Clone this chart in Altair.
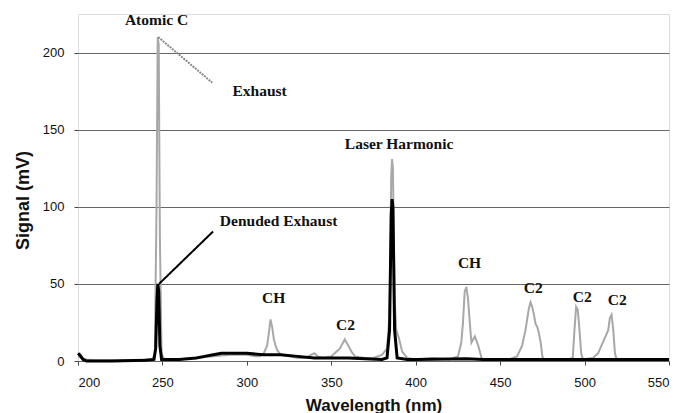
import altair as alt
import pandas as pd

# Exhaust spectrum (gray)
ex_wl = [200, 202, 205, 210, 220, 230, 240, 244, 245.5, 246.5, 247.2, 247.8, 248.5, 249.5, 251, 260, 270, 280, 290,
         300, 305, 308, 310, 312, 313, 314, 315, 316, 317, 318, 320, 325, 330, 335, 338, 340, 342, 345, 350, 352,
         355, 357, 358, 359, 360, 362, 364, 370, 375, 380, 383, 384.5, 385.5, 386, 386.5, 387.5, 388.5, 390, 392,
         395, 400, 410, 420, 425, 427, 428, 429, 430, 431, 432, 433, 434, 435, 436, 437, 438, 439, 440, 450, 455,
         460, 463, 465, 467, 468, 469, 470, 471, 472, 473, 474, 475, 476, 485, 490, 493, 494, 495, 496, 497, 498,
         499, 505, 508, 510, 512, 514, 515, 516, 517, 518, 519, 530, 550]
ex_sig = [3, 2, 1, 0.5, 0.5, 0.5, 1, 1, 5, 100, 210, 205, 80, 5, 1, 1, 2, 3, 4,
          4, 3, 3, 5, 10, 18, 27, 22, 14, 10, 7, 4, 3, 2, 2, 4, 5, 3, 2, 3, 5,
          8, 12, 14, 12, 10, 6, 3, 2, 2, 4, 8, 30, 120, 131, 125, 40, 20, 15, 6,
          2, 1, 2, 1, 3, 12, 25, 45, 48, 40, 25, 12, 14, 16, 13, 10, 6, 2, 1, 1, 1,
          3, 10, 20, 34, 38, 35, 30, 24, 22, 18, 12, 3, 1, 1, 1, 2, 20, 35, 33, 20, 5,
          1, 2, 5, 10, 15, 20, 28, 30, 20, 5, 1, 1, 1]

# Denuded exhaust spectrum (black)
de_wl = [200, 201, 203, 205, 220, 240, 245, 246, 246.8, 247.3, 247.8, 248.5, 249.5, 260, 270, 275, 280, 285,
         290, 300, 310, 320, 330, 340, 350, 360, 370, 380, 383, 384.5, 385.5, 386, 386.5, 387.5, 389, 395, 400,
         430, 440, 500, 550]
de_sig = [5, 4, 1, 0, 0, 0.5, 1, 8, 40, 50, 45, 10, 1, 1, 2, 3, 4, 5,
          5, 5, 4, 4, 3, 2, 2, 2, 1.5, 1, 2, 20, 95, 105, 100, 20, 2, 1, 1,
          1.5, 1, 1, 1]

# Annotation labels
lab_text = ["Atomic C", "Exhaust", "Denuded Exhaust", "Laser Harmonic", "CH", "C2", "CH", "C2", "C2", "C2"]
lab_x = [246.5, 291.5, 284, 358, 309, 352.8, 425, 464, 493, 513.8]
lab_y = [221, 175, 90.6, 141, 40.8, 23.3, 63.4, 47.2, 41.4, 39.5]
lab_align = ["center", "left", "left", "left", "left", "left", "left", "left", "left", "left"]

# Pointer lines
ptr_x = [247.5, 248]
ptr_y = [210, 50]
ptr_x2 = [279.5, 280]
ptr_y2 = [180.5, 84]
ptr_series = ["Exhaust", "Denuded"]

y_ticks = [0, 50, 100, 150, 200]
x_ticks = [200, 250, 300, 350, 400, 450, 500, 550]

ex_df = pd.DataFrame({"wl": ex_wl, "sig": ex_sig})
de_df = pd.DataFrame({"wl": de_wl, "sig": de_sig})
lab_df = pd.DataFrame({"t": lab_text, "x": lab_x, "y": lab_y, "a": lab_align})
ptr_df = pd.DataFrame({"x": ptr_x, "y": ptr_y, "x2": ptr_x2, "y2": ptr_y2, "s": ptr_series})

xscale = alt.Scale(domain=[200, 550], nice=False, zero=False)
yscale = alt.Scale(domain=[0, 225], nice=False)

xaxis = alt.Axis(values=x_ticks, title="Wavelength (nm)", grid=False, tickSize=4, labelPadding=11,
                 labelFontSize=13, labelFont="Liberation Sans", labelColor="#111",
                 titleFont="Liberation Sans", titleFontSize=17, titleFontWeight="bold", titleColor="#111",
                 titleY=49, titleBaseline="alphabetic", domain=False, tickColor="#444")
yaxis = alt.Axis(values=y_ticks, title="Signal (mV)", grid=True, gridColor="#666", gridWidth=1,
                 tickSize=4, labelPadding=10, labelFontSize=13, labelFont="Liberation Sans", labelColor="#111",
                 titleFont="Liberation Sans", titleFontSize=18, titleFontWeight="bold", titleColor="#111",
                 titleAngle=-90, titleX=-50, titleY=186, titleAlign="center", titleBaseline="alphabetic",
                 domain=False, tickColor="#444")

ex_line = alt.Chart(ex_df).mark_line(color="#a8a8a8", strokeWidth=2).encode(
    x=alt.X("wl:Q", scale=xscale, axis=xaxis),
    y=alt.Y("sig:Q", scale=yscale, axis=yaxis),
)
de_line = alt.Chart(de_df).mark_line(color="#000000", strokeWidth=3).encode(
    x=alt.X("wl:Q", scale=xscale),
    y=alt.Y("sig:Q", scale=yscale),
)
ptr = alt.Chart(ptr_df).mark_rule().encode(
    x=alt.X("x:Q", scale=xscale), y=alt.Y("y:Q", scale=yscale),
    x2="x2:Q", y2="y2:Q",
    color=alt.Color("s:N", scale=alt.Scale(domain=["Exhaust", "Denuded"], range=["#888888", "#000000"]), legend=None),
    strokeWidth=alt.StrokeWidth("s:N", scale=alt.Scale(domain=["Exhaust", "Denuded"], range=[2, 2]), legend=None),
    strokeDash=alt.StrokeDash("s:N", scale=alt.Scale(domain=["Exhaust", "Denuded"], range=[[2, 1], [1, 0]]), legend=None),
)
labels_c = alt.Chart(lab_df[lab_df.a == "center"]).mark_text(
    font="Liberation Serif", fontWeight="bold", fontSize=15.5, align="center", baseline="middle", color="#111"
).encode(x=alt.X("x:Q", scale=xscale), y=alt.Y("y:Q", scale=yscale), text="t:N")
labels_l = alt.Chart(lab_df[lab_df.a == "left"]).mark_text(
    font="Liberation Serif", fontWeight="bold", fontSize=15.5, align="left", baseline="middle", color="#111"
).encode(x=alt.X("x:Q", scale=xscale), y=alt.Y("y:Q", scale=yscale), text="t:N")

chart = alt.layer(ex_line, de_line, ptr, labels_c, labels_l).properties(
    width=591, height=347,
    autosize=alt.AutoSizeParams(type="none"),
    padding={"left": 78, "top": 14, "right": 16, "bottom": 52},
).configure_view(stroke="#444", strokeWidth=1, strokeDash=[3, 1]).configure(background="white")

chart.save("out.html", embed_options={"renderer": "svg", "actions": False})
